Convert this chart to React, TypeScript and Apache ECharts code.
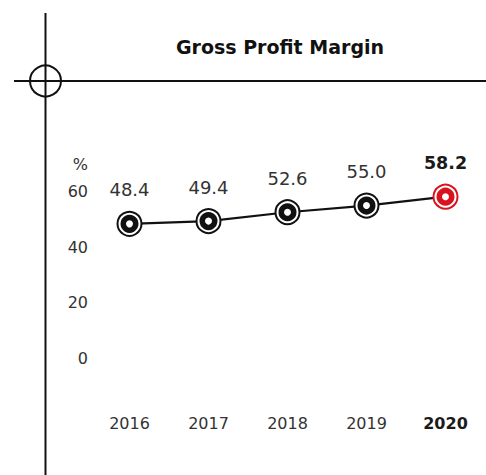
import React, { useEffect, useRef } from "react";
import * as echarts from "echarts";

const categories = ["2016", "2017", "2018", "2019", "2020"];
const marginValues = [48.4, 49.4, 52.6, 55.0, 58.2];
const yTickLabels: Record<number, string> = { 0: "0", 20: "20", 40: "40", 60: "60", 70: "%" };
const titleText = "Gross Profit Margin";
const highlightIndex = 4;

const FONT = "'DejaVu Sans', 'Liberation Sans', Arial, sans-serif";
const RED = "#d7141e";
const BLACK = "#111111";

export default function App() {
  const ref = useRef<HTMLDivElement>(null);
  useEffect(() => {
    if (!ref.current) return;
    const chart = echarts.init(ref.current, null, { renderer: "svg" });
    const isHi = (i: number) => i === highlightIndex;
    const outerData = marginValues.map((v, i) => ({
      value: v,
      itemStyle: { color: "#ffffff", borderColor: isHi(i) ? RED : BLACK, borderWidth: 2, opacity: 1 },
      label: isHi(i) ? { fontWeight: "bold", color: "#1a1a1a", fontSize: 17.5 } : undefined,
    }));
    const innerData = marginValues.map((v, i) => ({
      value: v,
      itemStyle: { color: "#ffffff", borderColor: isHi(i) ? RED : BLACK, borderWidth: 5.5, opacity: 1 },
    }));
    chart.setOption({
      animation: false,
      textStyle: { fontFamily: FONT },
      grid: { left: 90, right: 1, top: 164, bottom: 117, containLabel: false },
      xAxis: {
        type: "category",
        data: categories.map((c, i) =>
          isHi(i) ? { value: c, textStyle: { fontWeight: "bold", color: "#1a1a1a" } } : c
        ),
        axisLine: { show: false },
        axisTick: { show: false },
        axisLabel: { margin: 57, fontSize: 16, color: "#333", fontFamily: FONT },
      },
      yAxis: {
        type: "value",
        min: 0,
        max: 70,
        interval: 10,
        axisLine: { show: false },
        axisTick: { show: false },
        splitLine: { show: false },
        axisLabel: {
          margin: 2,
          fontSize: 16,
          color: "#333",
          fontFamily: FONT,
          formatter: (v: number) => yTickLabels[v] ?? "",
        },
      },
      series: [
        {
          type: "line",
          data: outerData,
          symbol: "circle",
          symbolSize: 24,
          lineStyle: { color: BLACK, width: 2.2 },
          z: 2,
          label: {
            show: true,
            position: "top",
            distance: 12,
            fontSize: 18,
            color: "#333",
            fontFamily: FONT,
            formatter: (p: any) => Number(p.value).toFixed(1),
          },
        },
        {
          type: "scatter",
          data: innerData,
          symbol: "circle",
          symbolSize: 12.5,
          itemStyle: { opacity: 1 },
          z: 3,
        },
      ],
      graphic: [
        { type: "line", shape: { x1: 45.5, y1: 13, x2: 45.5, y2: 475 }, style: { stroke: BLACK, lineWidth: 2 } },
        { type: "line", shape: { x1: 14, y1: 81, x2: 486, y2: 81 }, style: { stroke: BLACK, lineWidth: 2 } },
        { type: "circle", shape: { cx: 45.5, cy: 81, r: 15.5 }, style: { stroke: BLACK, lineWidth: 2, fill: "none" } },
        {
          type: "text",
          x: 280,
          y: 47,
          style: {
            text: titleText,
            font: `bold 19px ${FONT}`,
            fill: "#111",
            textAlign: "center",
            textVerticalAlign: "middle",
          },
        },
      ],
    });
    return () => chart.dispose();
  }, []);
  return (
    <div
      ref={ref}
      style={{ position: "absolute", left: 0, top: 0, width: 486, height: 475, background: "#fff" }}
    />
  );
}
